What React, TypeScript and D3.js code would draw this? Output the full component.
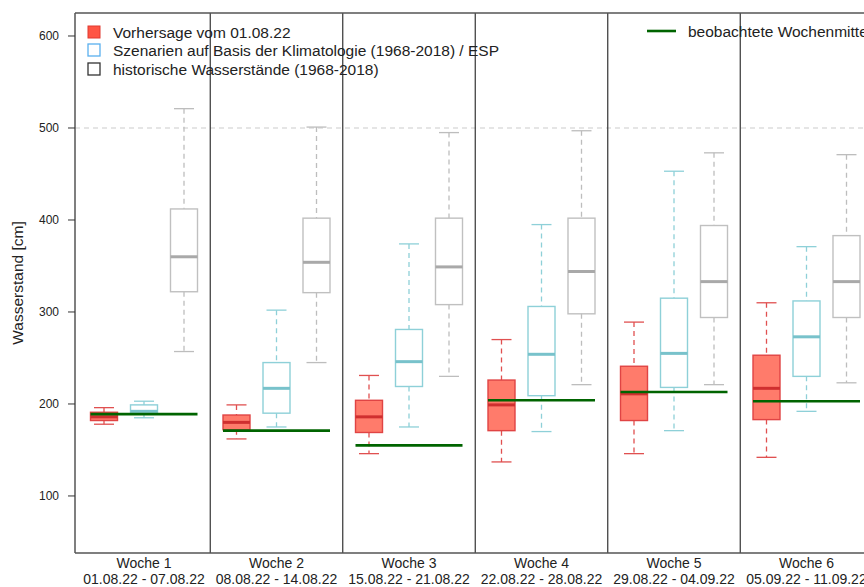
import React from "react";
import * as d3 from "d3";

// week labels
const weeks = ["Woche 1", "Woche 2", "Woche 3", "Woche 4", "Woche 5", "Woche 6"];
const dateRanges = [
  "01.08.22 - 07.08.22",
  "08.08.22 - 14.08.22",
  "15.08.22 - 21.08.22",
  "22.08.22 - 28.08.22",
  "29.08.22 - 04.09.22",
  "05.09.22 - 11.09.22",
];

// [min, q1, median, q3, max] per week
const forecast = [
  [178, 182, 186, 191, 196],
  [162, 172, 180, 188, 199],
  [146, 169, 186, 204, 231],
  [137, 171, 199, 226, 270],
  [146, 182, 211, 241, 289],
  [142, 183, 217, 253, 310],
];
const scenarios = [
  [185, 190, 192, 199, 203],
  [175, 190, 217, 245, 302],
  [175, 219, 246, 281, 374],
  [170, 209, 254, 306, 395],
  [171, 218, 255, 315, 453],
  [192, 230, 273, 312, 371],
];
const historic = [
  [257, 322, 360, 412, 521],
  [245, 321, 354, 402, 501],
  [230, 308, 349, 402, 495],
  [221, 298, 344, 402, 497],
  [221, 294, 333, 394, 473],
  [223, 294, 333, 383, 471],
];
const observed = [189, 171, 155, 204, 213, 203];

const yTicks = [100, 200, 300, 400, 500, 600];

const W = 864;
const H = 587;
const margin = { top: 13, bottom: 553, left: 75 };
const font = "Liberation Sans, Arial, sans-serif";

const series = [
  { key: "fc", data: forecast, fill: "#ff7b6b", stroke: "#e04444", median: "#cf2f2f", whisk: "#e05050" },
  { key: "esp", data: scenarios, fill: "none", stroke: "#8ed0d8", median: "#78c2cb", whisk: "#8ed0d8" },
  { key: "hist", data: historic, fill: "none", stroke: "#c0c0c0", median: "#a9a9a9", whisk: "#bdbdbd" },
];

export default function App() {
  const y = d3.scaleLinear().domain([38, 625]).range([margin.bottom, margin.top]);
  const xWeek = d3
    .scaleBand<string>()
    .domain(weeks)
    .range([77.75, 77.75 + 132.5 * weeks.length]);
  const xSub = d3.scalePoint<string>().domain(["fc", "esp", "hist"]).range([-40, 40]);
  const boxW = 27;
  const capW = 20;
  const center = (i: number) => (xWeek(weeks[i]) as number) + xWeek.bandwidth() / 2;

  return (
    <svg width={W} height={H} style={{ position: "absolute", left: 0, top: 0 }} fontFamily={font}>
      <rect width={W} height={H} fill="#fff" />

      {/* 500 reference line */}
      <line x1={margin.left} x2={W} y1={y(500)} y2={y(500)} stroke="#cccccc" strokeWidth={1.2} strokeDasharray="5,4" />

      {/* week separators */}
      {weeks.slice(1).map((w) => (
        <line key={w} x1={xWeek(w)} x2={xWeek(w)} y1={margin.top} y2={margin.bottom} stroke="#333" strokeWidth={1.2} />
      ))}

      {/* boxes */}
      {series.map((s) =>
        s.data.map((d, i) => {
          const cx = center(i) + (xSub(s.key) as number);
          const [lo, q1, med, q3, hi] = d;
          return (
            <g key={s.key + i}>
              <line x1={cx} x2={cx} y1={y(hi)} y2={y(q3)} stroke={s.whisk} strokeWidth={1.3} strokeDasharray="5,4" />
              <line x1={cx} x2={cx} y1={y(q1)} y2={y(lo)} stroke={s.whisk} strokeWidth={1.3} strokeDasharray="5,4" />
              <line x1={cx - capW / 2} x2={cx + capW / 2} y1={y(hi)} y2={y(hi)} stroke={s.whisk} strokeWidth={1.3} />
              <line x1={cx - capW / 2} x2={cx + capW / 2} y1={y(lo)} y2={y(lo)} stroke={s.whisk} strokeWidth={1.3} />
              <rect
                x={cx - boxW / 2}
                y={y(q3)}
                width={boxW}
                height={y(q1) - y(q3)}
                fill={s.fill}
                stroke={s.stroke}
                strokeWidth={1.4}
              />
              <line x1={cx - boxW / 2} x2={cx + boxW / 2} y1={y(med)} y2={y(med)} stroke={s.median} strokeWidth={3} />
            </g>
          );
        })
      )}

      {/* observed weekly means */}
      {observed.map((v, i) => (
        <line
          key={"obs" + i}
          x1={center(i) + (xSub("fc") as number) - boxW / 2}
          x2={center(i) + (xSub("hist") as number) + boxW / 2}
          y1={y(v)}
          y2={y(v)}
          stroke="#006400"
          strokeWidth={2.6}
        />
      ))}

      {/* frame */}
      <line x1={margin.left} x2={W} y1={margin.top} y2={margin.top} stroke="#555" strokeWidth={1.5} />
      <line x1={margin.left} x2={W} y1={margin.bottom} y2={margin.bottom} stroke="#555" strokeWidth={1.5} />
      <line x1={margin.left} x2={margin.left} y1={margin.top} y2={margin.bottom} stroke="#555" strokeWidth={1.5} />

      {/* y axis */}
      {yTicks.map((t) => (
        <g key={t}>
          <line x1={68} x2={margin.left} y1={y(t)} y2={y(t)} stroke="#333" strokeWidth={1} />
          <text x={59} y={y(t)} dy="0.35em" textAnchor="end" fontSize={12} fill="#222">
            {t}
          </text>
        </g>
      ))}
      <text
        transform={`translate(23,${(margin.top + margin.bottom) / 2}) rotate(-90)`}
        textAnchor="middle"
        fontSize={15.5}
        fill="#222"
      >
        Wasserstand [cm]
      </text>

      {/* x labels */}
      {weeks.map((w, i) => (
        <g key={w}>
          <text x={center(i)} y={568} textAnchor="middle" fontSize={14} fill="#222">
            {w}
          </text>
          <text x={center(i)} y={584} textAnchor="middle" fontSize={14} fill="#222">
            {dateRanges[i]}
          </text>
        </g>
      ))}

      {/* legend left */}
      <rect x={88} y={26} width={12} height={12} fill="#ff5544" stroke="#e03a30" strokeWidth={1} />
      <text x={113} y={37.5} fontSize={15.5} fill="#222">Vorhersage vom 01.08.22</text>
      <rect x={88} y={44} width={12} height={12} fill="none" stroke="#5ab0ee" strokeWidth={1.3} />
      <text x={113} y={55.5} fontSize={15.5} fill="#222">Szenarien auf Basis der Klimatologie (1968-2018) / ESP</text>
      <rect x={88} y={63} width={12} height={12} fill="none" stroke="#333" strokeWidth={1.3} />
      <text x={113} y={74.5} fontSize={15.5} fill="#222">historische Wasserstände (1968-2018)</text>

      {/* legend right */}
      <line x1={647} x2={676} y1={31} y2={31} stroke="#006400" strokeWidth={2.6} />
      <text x={688} y={36.5} fontSize={15.5} fill="#222">beobachtete Wochenmittel</text>
    </svg>
  );
}
